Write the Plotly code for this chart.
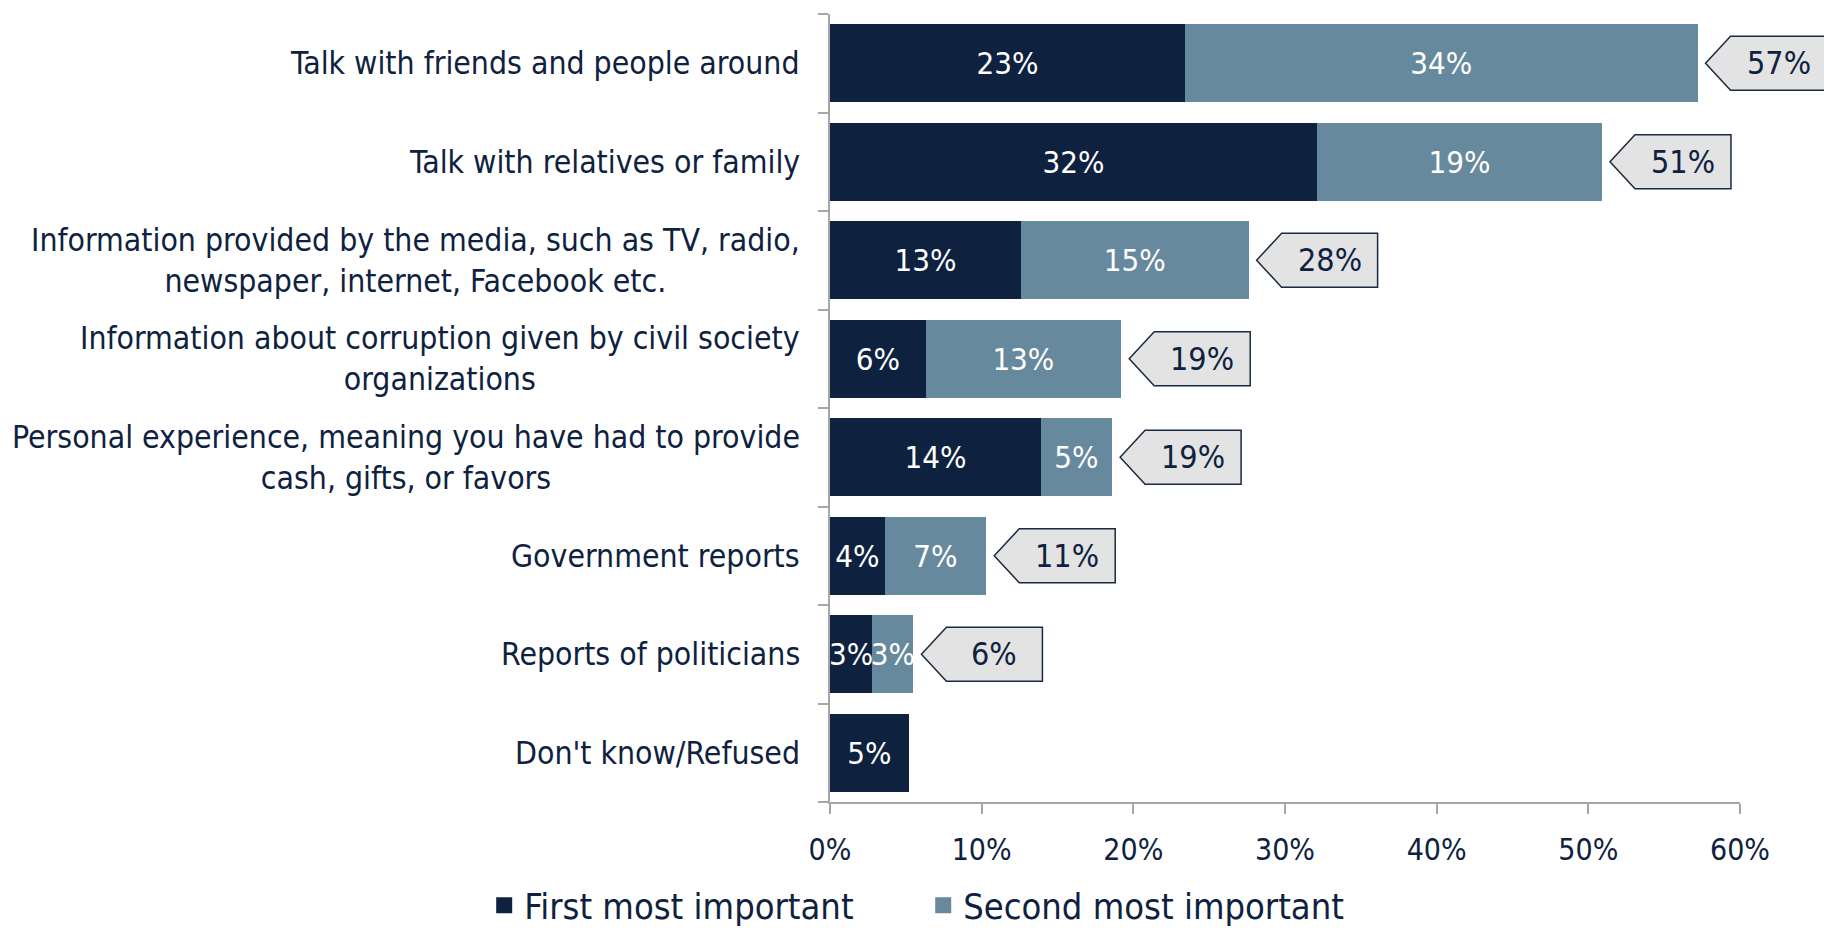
import plotly.graph_objects as go

categories = [
    "Talk with friends and people around",
    "Talk with relatives or family",
    "Information provided by the media, such as TV, radio,<br>newspaper, internet, Facebook etc.",
    "Information about corruption given by civil society<br>organizations",
    "Personal experience, meaning you have had to provide<br>cash, gifts, or favors",
    "Government reports",
    "Reports of politicians",
    "Don't know/Refused",
]
first_values = [23.4, 32.1, 12.6, 6.3, 13.9, 3.6, 2.8, 5.2]
second_values = [33.8, 18.8, 15.0, 12.9, 4.7, 6.7, 2.7, 0.0]
first_labels = ["23%", "32%", "13%", "6%", "14%", "4%", "3%", "5%"]
second_labels = ["34%", "19%", "15%", "13%", "5%", "7%", "3%", ""]
total_labels = ["57%", "51%", "28%", "19%", "19%", "11%", "6%", ""]
x_range = [0, 60]
x_ticks = [0, 10, 20, 30, 40, 50, 60]
x_tick_labels = ["0%", "10%", "20%", "30%", "40%", "50%", "60%"]

DARK = "#0E2240"
LIGHT = "#67899D"
FONT = "DejaVu Sans Condensed, Liberation Sans Narrow, DejaVu Sans, sans-serif"

pos = list(range(len(categories)))

fig = go.Figure()
fig.add_trace(go.Bar(
    y=pos, x=first_values, orientation="h", name="First most important",
    marker=dict(color=DARK, line=dict(width=0)),
    text=first_labels, textposition="inside", insidetextanchor="middle",
    textangle=0, constraintext="none",
    textfont=dict(color="white", size=31, family=FONT),
    showlegend=False, cliponaxis=False,
))
fig.add_trace(go.Bar(
    y=pos, x=second_values, orientation="h", name="Second most important",
    marker=dict(color=LIGHT, line=dict(width=0)),
    text=second_labels, textposition="inside", insidetextanchor="middle",
    textangle=0, constraintext="none",
    textfont=dict(color="white", size=31, family=FONT),
    showlegend=False, cliponaxis=False,
))
# legend entries
for nm, col in [("First most important", DARK), ("Second most important", LIGHT)]:
    fig.add_trace(go.Scatter(
        x=[None], y=[None], mode="markers", name=nm,
        marker=dict(symbol="square", size=20, color=col),
    ))

# callouts with totals
shapes = []
annotations = []
for i, lab in enumerate(total_labels):
    if not lab:
        continue
    tot = first_values[i] + second_values[i]
    shapes.append(dict(
        type="path", xref="paper", yref="y",
        xsizemode="pixel", ysizemode="pixel",
        xanchor=(tot - x_range[0]) / (x_range[1] - x_range[0]), yanchor=i,
        path="M8,0 L33,27 L129,27 L129,-27 L33,-27 Z",
        fillcolor="#E3E3E3", line=dict(color="#1B2A40", width=1.5),
        layer="above",
    ))
    annotations.append(dict(
        x=tot, y=i, xref="x", yref="y", text=lab, showarrow=False,
        xanchor="center", yanchor="middle", xshift=81,
        font=dict(size=32, color=DARK, family=FONT),
    ))

# category labels
for i, cat in enumerate(categories):
    annotations.append(dict(
        x=0, y=i, xref="paper", yref="y", text=cat, showarrow=False,
        xanchor="right", yanchor="middle", align="center", xshift=-28,
        font=dict(size=31.7, color=DARK, family=FONT),
    ))

fig.update_layout(
    width=1824, height=931,
    margin=dict(l=830, r=84, t=14, b=129, autoexpand=False),
    barmode="stack", bargap=0.21,
    plot_bgcolor="white", paper_bgcolor="white",
    uniformtext=dict(minsize=31, mode="show"),
    font=dict(family=FONT, color=DARK),
    shapes=shapes, annotations=annotations,
    showlegend=True,
    legend=dict(
        orientation="h", traceorder="normal",
        x=-0.38, xanchor="left", y=-0.131, yanchor="middle",
        font=dict(size=36, color=DARK, family=FONT),
        entrywidth=394, entrywidthmode="pixels",
        itemclick=False, bgcolor="rgba(0,0,0,0)",
    ),
    xaxis=dict(
        range=x_range, tickvals=x_ticks, ticktext=x_tick_labels,
        showgrid=False, zeroline=False, showline=True,
        linecolor="#A6A6A6", linewidth=1.5,
        ticks="outside", ticklen=10, tickcolor="#A6A6A6", tickwidth=1.5,
        ticklabelstandoff=10,
        tickfont=dict(size=30, color=DARK, family=FONT),
        fixedrange=True,
    ),
    yaxis=dict(
        range=[len(categories) - 0.5, -0.5],
        tickvals=[i - 0.5 for i in range(len(categories) + 1)],
        ticktext=[""] * (len(categories) + 1),
        showgrid=False, zeroline=False, showline=True,
        linecolor="#A6A6A6", linewidth=1.5,
        ticks="outside", ticklen=10, tickcolor="#A6A6A6", tickwidth=1.5,
        fixedrange=True,
    ),
)

fig.write_html(
    "out.html",
    config={"displayModeBar": False},
    post_script="document.body.style.margin='0';document.body.style.overflow='hidden';",
)
